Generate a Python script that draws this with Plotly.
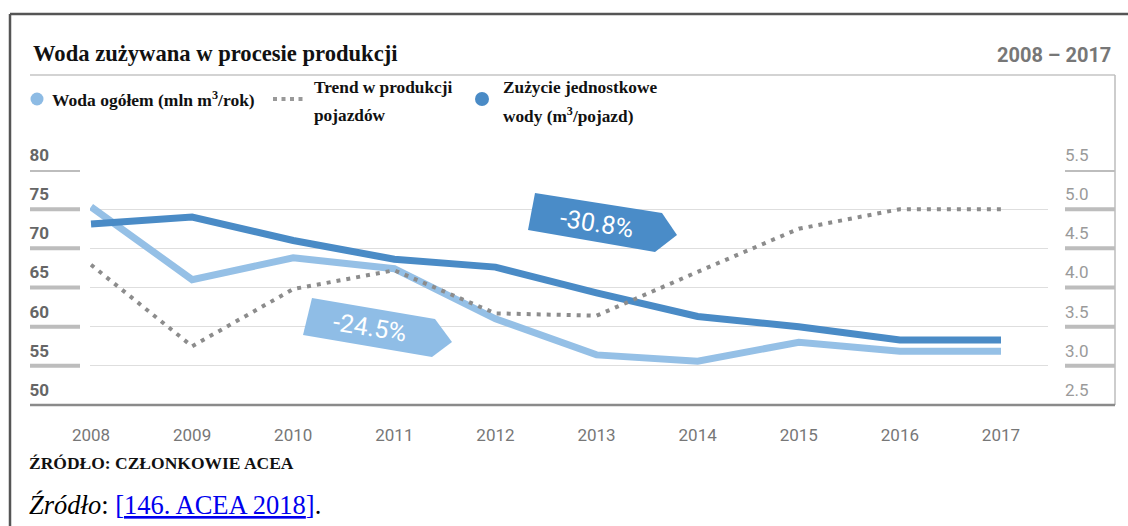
import plotly.graph_objects as go

# ---- data -------------------------------------------------------------
years = [2008, 2009, 2010, 2011, 2012, 2013, 2014, 2015, 2016, 2017]
water_total = [75.3, 66.0, 68.8, 67.4, 61.0, 56.4, 55.6, 58.0, 56.85, 56.85]   # mln m3/rok (lewa oś)
water_per_vehicle = [4.81, 4.90, 4.60, 4.36, 4.26, 3.93, 3.63, 3.50, 3.33, 3.33]  # m3/pojazd (prawa oś)
production_trend = [4.29, 3.25, 3.98, 4.22, 3.67, 3.64, 4.20, 4.75, 5.00, 5.00]  # trend (prawa oś)

left_ticks = [50, 55, 60, 65, 70, 75, 80]
right_ticks = [2.5, 3.0, 3.5, 4.0, 4.5, 5.0, 5.5]
year_labels = [str(y) for y in years]

change_total = "-24.5%"
change_per_vehicle = "-30.8%"

# ---- page geometry ----------------------------------------------------
W, H = 1128, 526
L, R, T, B = 90, 1048, 170, 405   # plot area edges in px


def px_x(px):
    return (px - L) / (R - L)


def px_y(py):
    return (B - py) / (B - T)


LIGHT = "rgb(141,187,228)"
DARK = "rgb(74,139,198)"
SERIF = "Liberation Serif"
SANS = "Roboto"

fig = go.Figure()

fig.add_trace(go.Scatter(
    x=years, y=water_per_vehicle, yaxis="y2", mode="lines",
    line=dict(color=DARK, width=7), showlegend=False))
fig.add_trace(go.Scatter(
    x=years, y=water_total, yaxis="y", mode="lines",
    line=dict(color=LIGHT, width=7), opacity=0.92, showlegend=False))
fig.add_trace(go.Scatter(
    x=years, y=production_trend, yaxis="y2", mode="lines",
    line=dict(color="#8c8c8c", width=4, dash="4px,6px"), showlegend=False))

shapes = []


def hline(x0, x1, y, color, width, **kw):
    shapes.append(dict(type="line", xref="paper", yref="paper",
                       x0=px_x(x0), x1=px_x(x1), y0=px_y(y), y1=px_y(y),
                       line=dict(color=color, width=width, **kw), layer="below"))


def vline(x, y0, y1, color, width):
    shapes.append(dict(type="line", xref="paper", yref="paper",
                       x0=px_x(x), x1=px_x(x), y0=px_y(y0), y1=px_y(y1),
                       line=dict(color=color, width=width), layer="below"))


# outer frame
hline(10, W, 14, "#555555", 2.5)
vline(10, 14, H, "#555555", 2.5)
# inner box
hline(30, 1115, 75, "#c4c4c4", 1.5)
vline(1115, 75, 405, "#bdbdbd", 1.5)
hline(30, 1115, 405, "#8a8a8a", 2.5)

# grey tick bars beside the axes
for v in left_ticks[1:]:
    shapes.append(dict(type="line", xref="paper", yref="y",
                       x0=px_x(30), x1=px_x(80), y0=v, y1=v,
                       line=dict(color="#bdbdbd", width=4)))
for v in right_ticks[1:]:
    shapes.append(dict(type="line", xref="paper", yref="y2",
                       x0=px_x(1065), x1=px_x(1115), y0=v, y1=v,
                       line=dict(color="#bdbdbd", width=4)))


def banner(pts, color):
    d = "M " + " L ".join(f"{px_x(x):.5f},{px_y(y):.5f}" for x, y in pts) + " Z"
    shapes.append(dict(type="path", xref="paper", yref="paper", path=d,
                       fillcolor=color, line=dict(width=0), layer="above"))


banner([(535, 193), (662, 213), (677, 235), (655, 252), (528, 230)], "rgb(74,140,200)")
banner([(312, 298), (435, 319), (452, 342), (432, 357), (303, 335)], "rgb(143,189,230)")

# legend markers
for cx, cy, r, col in [(37, 99, 6.5, LIGHT), (482, 99, 7, DARK)]:
    shapes.append(dict(type="circle", xref="paper", yref="paper",
                       x0=px_x(cx - r), x1=px_x(cx + r), y0=px_y(cy + r), y1=px_y(cy - r),
                       fillcolor=col, line=dict(width=0)))
hline(273, 303, 99, "#999999", 4, dash="4px,4.5px")

annotations = []


def text(x, y, s, size, color="#111111", family=SERIF, anchor="left", **kw):
    annotations.append(dict(xref="paper", yref="paper", x=px_x(x), y=px_y(y),
                            text=s, showarrow=False, xanchor=anchor, yanchor="middle",
                            font=dict(size=size, color=color, family=family), **kw))


text(31, 53, "<b>Woda zużywana w procesie produkcji</b>", 22.6)
text(1113, 55, "<b>2008 – 2017</b>", 20, color="#777777", family=SANS, anchor="right")

text(50, 99, "<b>Woda ogółem (mln m<sup>3</sup>/rok)</b>", 17.5)
text(312, 88, "<b>Trend w produkcji</b>", 17.3)
text(312, 115, "<b>pojazdów</b>", 17.3)
text(501, 88, "<b>Zużycie jednostkowe</b>", 17.3)
text(501, 115, "<b>wody (m<sup>3</sup>/pojazd)</b>", 17.3)

text(27, 463, "<b>ŹRÓDŁO: CZŁONKOWIE ACEA</b>", 17.5)
text(27, 505, "<i>Źródło</i>: <span style='color:#0000ee'>[<u>146. ACEA 2018</u>]</span>.",
     26.5, color="#000000")

text(597, 223, change_per_vehicle, 25, color="white", family=SANS, anchor="center", textangle=9)
text(370, 327, change_total, 25, color="white", family=SANS, anchor="center", textangle=9)

fig.update_layout(
    width=W, height=H, autosize=False,
    margin=dict(l=L, r=W - R, t=T, b=H - B, pad=0),
    paper_bgcolor="white", plot_bgcolor="white",
    showlegend=False,
    shapes=shapes, annotations=annotations,
    xaxis=dict(range=[2007.99, 2017.465], tickvals=years, ticktext=year_labels,
               showgrid=False, zeroline=False, showline=False, ticks="",
               tickfont=dict(family=SANS, size=17, color="#777777"),
               ticklabelstandoff=18),
    yaxis=dict(range=[50, 80], tickvals=left_ticks, showgrid=True,
               gridcolor="#dedede", gridwidth=1, zeroline=False, showline=False,
               ticks="", tickfont=dict(family=SANS, size=17, color="#666666", weight="bold"),
               ticklabelshift=-15, ticklabelstandoff=40),
    yaxis2=dict(range=[2.5, 5.5], tickvals=right_ticks, tickformat=".1f",
                overlaying="y", side="right", showgrid=False, zeroline=False,
                showline=False, ticks="",
                tickfont=dict(family=SANS, size=17, color="#9a9a9a"),
                ticklabelshift=-15, ticklabelstandoff=16),
)

fig.write_html("out.html")
